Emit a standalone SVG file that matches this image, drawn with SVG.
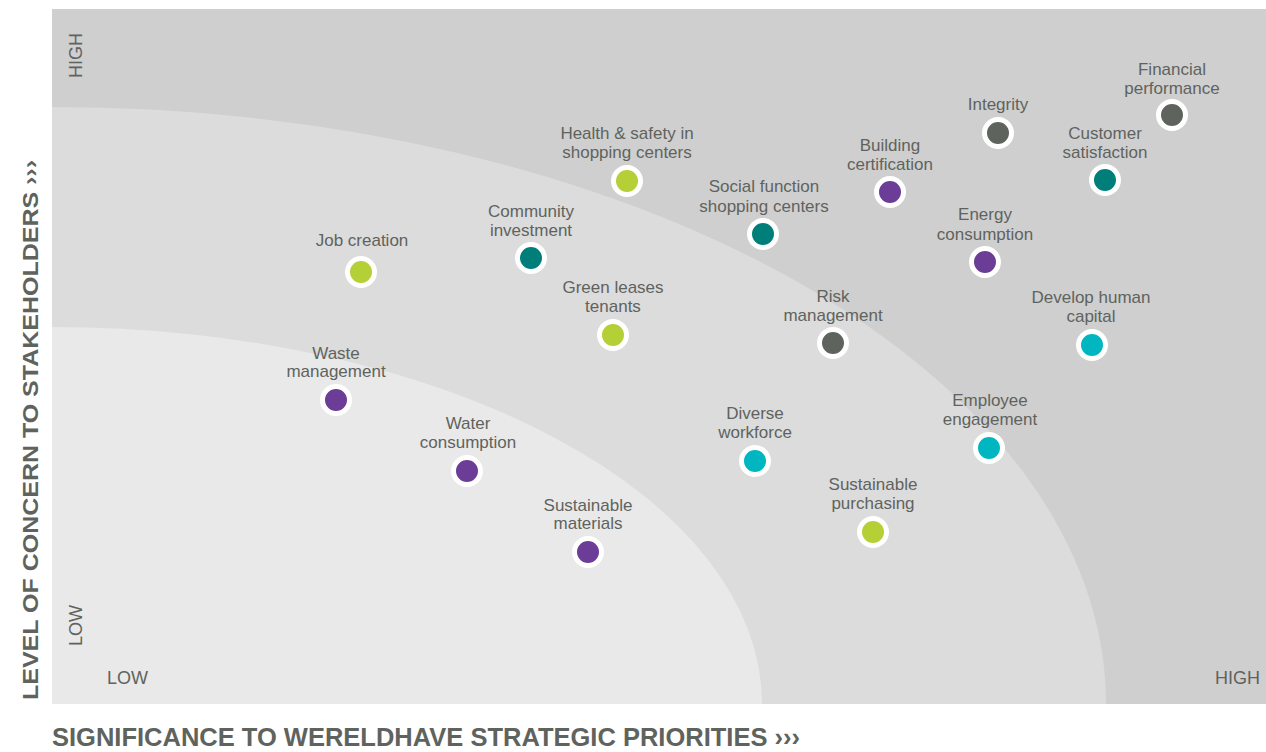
<svg xmlns="http://www.w3.org/2000/svg" width="1266" height="752" viewBox="0 0 1266 752">
<style>
.lbl{font-family:"Liberation Sans",Arial,sans-serif;font-size:17px;fill:#5f635e;text-anchor:middle}
.ax{font-family:"Liberation Sans",Arial,sans-serif;font-size:18px;fill:#5f635e}
.title{font-family:"Liberation Sans",Arial,sans-serif;font-weight:bold;fill:#5f635e}
.dot{stroke:#ffffff;stroke-width:5}
.lime{fill:#b5cf37}.teal{fill:#007f7a}.purple{fill:#6c3d97}.gray{fill:#5f635e}.cyan{fill:#00b7c1}
</style>
<rect width="1266" height="752" fill="#ffffff"/>
<g id="background">
<rect x="52" y="9" width="1214" height="695" fill="#cfcfcf"/>
<path d="M52,107 A1054,597 0 0 1 1106,704 L52,704 Z" fill="#dcdcdc"/>
<path d="M52,327 A710,377 0 0 1 762,704 L52,704 Z" fill="#e9e9e9"/>
</g>
<g id="axes">
<text class="ax" transform="translate(82,78) rotate(-90)">HIGH</text>
<text class="ax" transform="translate(82,646) rotate(-90)">LOW</text>
<text class="ax" x="107" y="684">LOW</text>
<text class="ax" x="1215" y="684">HIGH</text>
<text class="title" x="52" y="746" font-size="25" textLength="748" lengthAdjust="spacingAndGlyphs">SIGNIFICANCE TO WERELDHAVE STRATEGIC PRIORITIES ›››</text>
<text class="title" font-size="22" transform="translate(38,700) rotate(-90)" textLength="540" lengthAdjust="spacingAndGlyphs">LEVEL OF CONCERN TO STAKEHOLDERS ›››</text>
</g>
<g id="connectors"></g>
<g id="financial-performance"><text class="lbl" x="1172" y="75">Financial</text><text class="lbl" x="1172" y="94">performance</text><circle class="dot gray" cx="1172" cy="115" r="13.5"/></g>
<g id="integrity"><text class="lbl" x="998" y="110">Integrity</text><circle class="dot gray" cx="998" cy="133" r="13.5"/></g>
<g id="customer-satisfaction"><text class="lbl" x="1105" y="139">Customer</text><text class="lbl" x="1105" y="158">satisfaction</text><circle class="dot teal" cx="1105" cy="180" r="13.5"/></g>
<g id="building-certification"><text class="lbl" x="890" y="151">Building</text><text class="lbl" x="890" y="170">certification</text><circle class="dot purple" cx="890" cy="192" r="13.5"/></g>
<g id="energy-consumption"><text class="lbl" x="985" y="220">Energy</text><text class="lbl" x="985" y="240">consumption</text><circle class="dot purple" cx="985" cy="262" r="13.5"/></g>
<g id="health-safety"><text class="lbl" x="627" y="139">Health &amp; safety in</text><text class="lbl" x="627" y="158">shopping centers</text><circle class="dot lime" cx="627" cy="181" r="13.5"/></g>
<g id="social-function"><text class="lbl" x="764" y="192">Social function</text><text class="lbl" x="764" y="212">shopping centers</text><circle class="dot teal" cx="763" cy="234" r="13.5"/></g>
<g id="community-investment"><text class="lbl" x="531" y="217">Community</text><text class="lbl" x="531" y="236">investment</text><circle class="dot teal" cx="531" cy="258" r="13.5"/></g>
<g id="job-creation"><text class="lbl" x="362" y="246">Job creation</text><circle class="dot lime" cx="361" cy="272" r="13.5"/></g>
<g id="green-leases"><text class="lbl" x="613" y="293">Green leases</text><text class="lbl" x="613" y="312">tenants</text><circle class="dot lime" cx="613" cy="335" r="13.5"/></g>
<g id="risk-management"><text class="lbl" x="833" y="302">Risk</text><text class="lbl" x="833" y="321">management</text><circle class="dot gray" cx="833" cy="343" r="13.5"/></g>
<g id="develop-human-capital"><text class="lbl" x="1091" y="303">Develop human</text><text class="lbl" x="1091" y="322">capital</text><circle class="dot cyan" cx="1092" cy="345" r="13.5"/></g>
<g id="waste-management"><text class="lbl" x="336" y="359">Waste</text><text class="lbl" x="336" y="377">management</text><circle class="dot purple" cx="336" cy="400" r="13.5"/></g>
<g id="water-consumption"><text class="lbl" x="468" y="429">Water</text><text class="lbl" x="468" y="448">consumption</text><circle class="dot purple" cx="467" cy="471" r="13.5"/></g>
<g id="diverse-workforce"><text class="lbl" x="755" y="419">Diverse</text><text class="lbl" x="755" y="438">workforce</text><circle class="dot cyan" cx="755" cy="461" r="13.5"/></g>
<g id="employee-engagement"><text class="lbl" x="990" y="406">Employee</text><text class="lbl" x="990" y="425">engagement</text><circle class="dot cyan" cx="989" cy="448" r="13.5"/></g>
<g id="sustainable-purchasing"><text class="lbl" x="873" y="490">Sustainable</text><text class="lbl" x="873" y="509">purchasing</text><circle class="dot lime" cx="873" cy="532" r="13.5"/></g>
<g id="sustainable-materials"><text class="lbl" x="588" y="511">Sustainable</text><text class="lbl" x="588" y="529">materials</text><circle class="dot purple" cx="588" cy="552" r="13.5"/></g>
</svg>
